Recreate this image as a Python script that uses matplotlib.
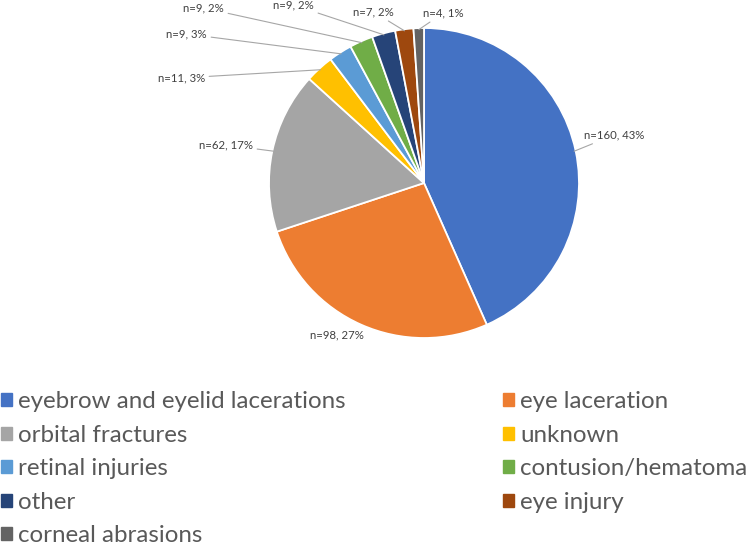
import matplotlib
matplotlib.use("Agg")
import matplotlib.pyplot as plt
import numpy as np

plt.rcParams['font.family'] = ['Lato', 'DejaVu Sans']

# data
categories = ["eyebrow and eyelid lacerations", "eye laceration", "orbital fractures",
              "unknown", "retinal injuries", "contusion/hematoma", "other",
              "eye injury", "corneal abrasions"]
counts = [160, 98, 62, 11, 9, 9, 9, 7, 4]
pct_labels = ["43%", "27%", "17%", "3%", "3%", "2%", "2%", "2%", "1%"]
colors = ["#4472C4", "#ED7D31", "#A5A5A5", "#FFC000", "#5B9BD5",
          "#70AD47", "#264478", "#9E480E", "#636363"]

W, H = 753, 547
fig = plt.figure(figsize=(W / 100, H / 100), dpi=100)

# pie axes: centre (424,183), radius 155 px
cx, cy, r = 424, 183, 155
ax = fig.add_axes([(cx - r) / W, (H - cy - r) / H, 2 * r / W, 2 * r / H])
wedges, _ = ax.pie(counts, colors=colors, startangle=90, counterclock=False,
                   radius=1, wedgeprops=dict(edgecolor="white", linewidth=1.3))
ax.set_xlim(-1, 1)
ax.set_ylim(-1, 1)
ax.set_aspect("equal")
ax.axis("off")

# label anchor points (figure pixels, top-left origin) and alignment
label_pos = [(584, 135, "left"), (364, 335, "right"), (253, 145, "right"),
             (205, 78, "right"), (207, 34, "right"), (224, 8, "right"),
             (314, 5, "right"), (394, 12, "right"), (423, 13, "left")]
leader = [True, False, True, True, True, True, True, True, True]

for w, n, p, (lx, ly, ha), ld in zip(wedges, counts, pct_labels, label_pos, leader):
    ang = np.deg2rad((w.theta1 + w.theta2) / 2)
    ex, ey = np.cos(ang), np.sin(ang)
    txt = f"n={n}, {p}"
    if ld:
        ax.annotate(txt, xy=(ex * 0.99, ey * 0.99), xycoords="data",
                    xytext=(lx, H - ly), textcoords="figure pixels",
                    ha=ha, va="center", fontsize=8.2, color="#404040",
                    arrowprops=dict(arrowstyle="-", color="#A6A6A6", lw=0.8,
                                    shrinkA=1, shrinkB=0))
    else:
        fig.text(lx / W, 1 - ly / H, txt, ha=ha, va="center",
                 fontsize=8.2, color="#404040")

# legend, row-wise order like the original
order = [0, 2, 4, 6, 8, 1, 3, 5, 7]
handles = [plt.Rectangle((0, 0), 1, 1, color=colors[i]) for i in order]
labels = [categories[i] for i in order]
fig.legend(handles, labels, ncol=2, loc="upper left",
           bbox_to_anchor=(0 / W, 1 - 390 / H), frameon=False,
           fontsize=17.4, labelcolor="#595959", handlelength=0.46,
           handleheight=0.46, handletextpad=0.25, labelspacing=0.52,
           columnspacing=6.5, borderaxespad=0, borderpad=0.05)

fig.savefig("out.png", dpi=100)
